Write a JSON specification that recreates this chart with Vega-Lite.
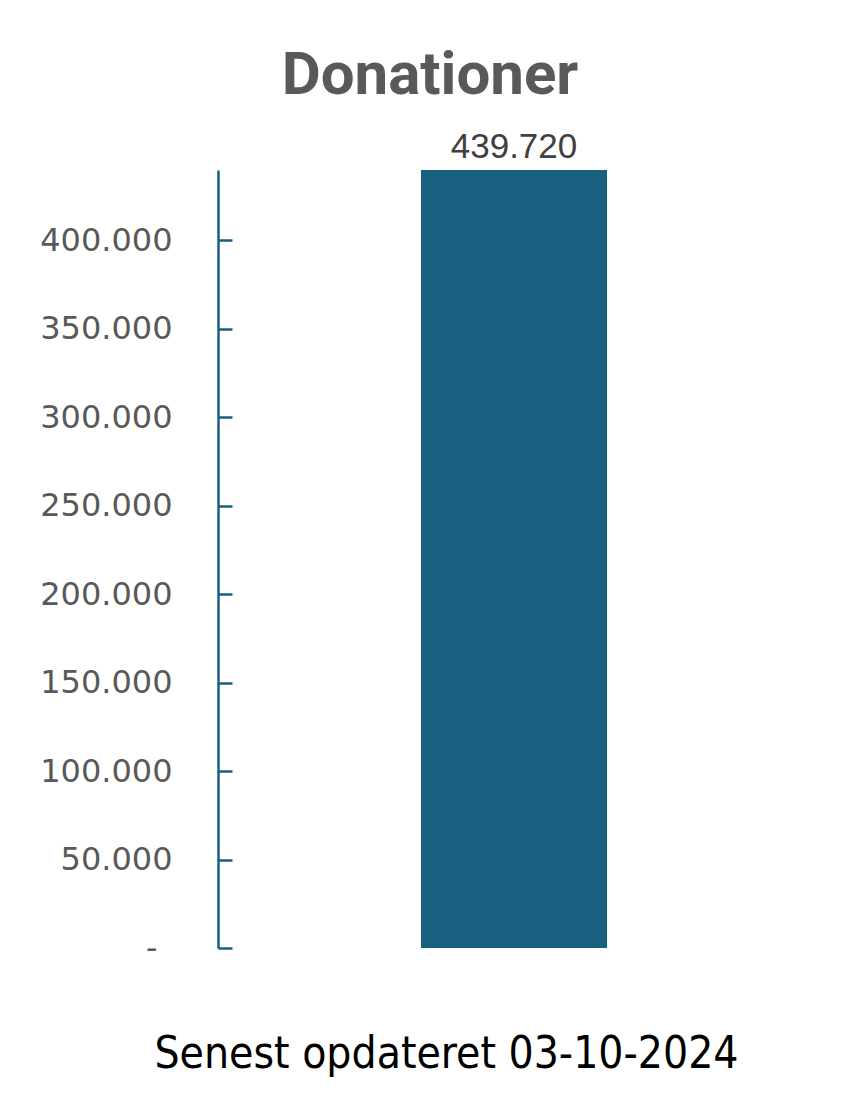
{
  "$schema": "https://vega.github.io/schema/vega-lite/v6.json",
  "autosize": "none",
  "width": 592,
  "height": 778,
  "padding": {"left": 218, "top": 170, "right": 50, "bottom": 159},
  "background": "white",
  "title": {
    "text": "Donationer",
    "font": "Roboto",
    "fontWeight": "bold",
    "fontSize": 60,
    "color": "#595959",
    "anchor": "middle",
    "dx": -84,
    "offset": 23
  },
  "data": {"values": [{"kategori": "Donationer", "antal": 439720}]},
  "encoding": {
    "x": {
      "field": "kategori",
      "type": "nominal",
      "scale": {"paddingInner": 0, "paddingOuter": 0},
      "axis": {
        "title": "Senest opdateret 03-10-2024",
        "labels": false,
        "ticks": false,
        "domain": false,
        "titleFont": "DejaVu Sans Condensed",
        "titleFontSize": 44,
        "titleFontWeight": "normal",
        "titleColor": "#000000",
        "titleX": 228,
        "titleY": 119,
        "titleBaseline": "alphabetic",
        "titleAnchor": "middle"
      }
    },
    "y": {
      "field": "antal",
      "type": "quantitative",
      "scale": {"domain": [0, 439720], "nice": false},
      "axis": {
        "title": null,
        "values": [0, 50000, 100000, 150000, 200000, 250000, 300000, 350000, 400000],
        "labelExpr": "datum.value == 0 ? '-' : replace(format(datum.value, ','), /,/g, '.')",
        "labelFont": "DejaVu Sans",
        "labelFontSize": 32,
        "labelColor": "#595959",
        "labelPadding": {"condition": {"test": "datum.value == 0", "value": 75}, "value": 60},
        "tickSize": -14,
        "tickWidth": 2.5,
        "tickColor": "#17607f",
        "domainColor": "#17607f",
        "domainWidth": 2.5,
        "grid": false
      }
    }
  },
  "layer": [
    {"mark": {"type": "bar", "size": 186, "color": "#17607f"}},
    {
      "mark": {"type": "text", "dy": -12, "baseline": "alphabetic", "font": "Liberation Sans", "fontSize": 35, "color": "#404040"},
      "encoding": {"text": {"field": "antal", "type": "quantitative", "format": ",.0f"}}
    }
  ],
  "config": {
    "view": {"stroke": null},
    "locale": {"number": {"decimal": ",", "thousands": ".", "grouping": [3], "currency": ["", " kr."]}}
  }
}
